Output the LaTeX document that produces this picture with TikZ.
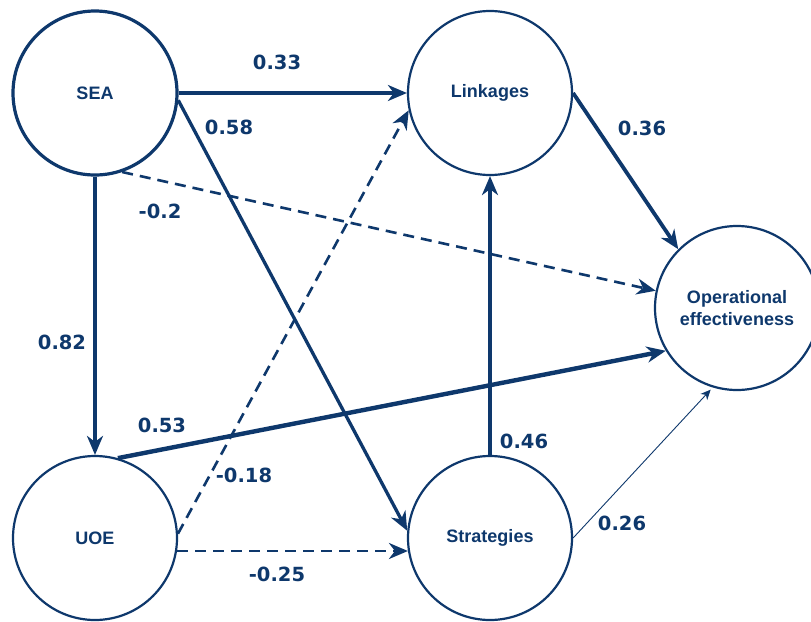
\documentclass[tikz,border=0pt]{standalone}
\usepackage{fontspec}
\setmainfont{Liberation Sans}
\newfontfamily\lblfont{DejaVu Sans}
\usetikzlibrary{arrows.meta}
\definecolor{navy}{RGB}{14,56,108}
\begin{document}
\begin{tikzpicture}[x=1pt,y=-1pt,
  latent/.style={circle,draw=navy,line width=2.2pt,minimum size=164pt,inner sep=0pt,
    text=navy,font=\fontsize{18}{22}\selectfont\bfseries,align=center},
  pathedge/.style={draw=navy,line width=3.3pt,-{Stealth[length=19pt,width=16pt,inset=6pt]}},
  negedge/.style={pathedge,line width=2.6pt,dash pattern=on 11pt off 7pt},
  thinedge/.style={draw=navy,line width=0.9pt,-{Stealth[length=10pt,width=9pt,inset=3pt]}},
  coef/.style={text=navy,font=\lblfont\fontsize{19.5}{22}\selectfont\bfseries,inner sep=0pt}]
\useasboundingbox (0,0) rectangle (811,621);
\fill[white] (0,0) rectangle (811,621);

\node[latent,line width=3.2pt] (sea) at (95,93) {SEA};
\node[latent] (lnk) at (490,93) {Linkages};
\node[latent] (oe) at (737,308) {Operational\\effectiveness};
\node[latent] (uoe) at (95,538) {UOE};
\node[latent] (str) at (490,538) {Strategies};

% edges
\draw[pathedge,line width=3.8pt] (sea.east) -- (lnk.west);
\draw[pathedge] (sea.-5) -- (str.175);
\draw[negedge] (sea.-71) -- (oe.168);
\draw[pathedge] (sea.south) -- (uoe.north);
\draw[pathedge,line width=3.8pt] (lnk.east) -- (oe.135);
\draw[pathedge] (str.north) -- (lnk.south);
\draw[pathedge,line width=4.4pt] (uoe.74) -- (oe.211);
\draw[negedge] (uoe.3) -- (lnk.192);
\draw[negedge] (uoe.-9) -- (str.189);
\draw[thinedge,shorten >=3pt] (str.east) -- (oe.253);

% coefficients
\node[coef] (c1) at (277,62) {0.33};
\node[coef] (c2) at (229,127) {0.58};
\node[coef] (c3) at (160,211) {-0.2};
\node[coef] (c4) at (62,342) {0.82};
\node[coef] (c5) at (642,128) {0.36};
\node[coef] (c6) at (524,441) {0.46};
\node[coef] (c7) at (162,425) {0.53};
\node[coef] (c8) at (244,475) {-0.18};
\node[coef] (c9) at (277,574) {-0.25};
\node[coef] (c10) at (622,523) {0.26};
\end{tikzpicture}
\end{document}
